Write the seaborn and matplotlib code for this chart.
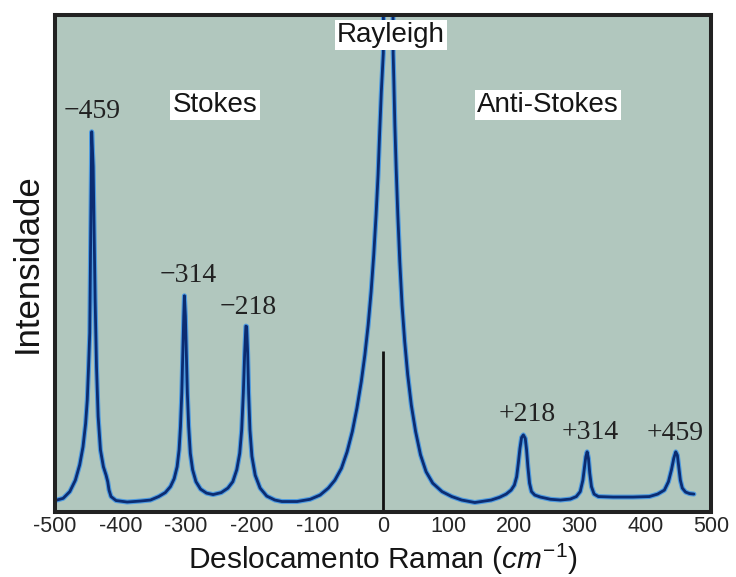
import matplotlib

matplotlib.use("Agg")
import matplotlib.pyplot as plt
import pandas as pd
import seaborn as sns

# curve (shift in cm^-1, intensity in % of axis height)
raman_shift = [
    -497, -487.5, -477.4, -468.9, -462.3, -457.3, -453.3, -450.8, -448.8,
    -447, -446, -445, -444,
    -441.8, -440.3, -438.8, -436.7, -434.2, -430.7, -426.2, -422.1, -419.6,
    -417.6, -414.6, -407, -390, -369.5, -354.4, -341.9, -331.8, -324, -318.3,
    -313.8, -310.8, -308.7, -306.7, -305.2, -303.7, -302.7,
    -301.2, -299.7, -298.2, -296.2, -293.7, -290.2, -285.1, -278.1, -269.1,
    -259, -246.5, -236.4, -228.9, -222.9, -218.4, -215.4, -212.9, -210.8,
    -209, -207.8,
    -206.3, -204.8, -202.8, -199.8, -194.8, -187.3, -177.2, -164.7, -154,
    -131, -111, -95.9, -83.3, -73.3, -63.3, -54.7, -46.7, -39.7, -33.1,
    -27.6, -22.6, -18.1, -14.1, -10.5, -7.5, -5.0, -2.5, -0.5, 0.5,
    8.5,
    15.5, 16.6, 18.1, 20.1, 22.6, 25.6, 29.1, 33.1, 37.7, 43.2, 49.7, 57.2,
    65.7, 75.8, 90, 104.9, 120,
    140, 165, 177.7, 187.8, 195.3, 200.3, 203.8, 206.3, 208.8, 211.3, 214,
    216.9, 218.9, 220.9, 223.4, 226.4, 231.4, 240, 255.5, 270.6, 285.7,
    294.7, 300.7, 304.7, 307.2, 309.2, 311.2,
    313.2, 315.2, 317.8, 321.8, 328.3, 351, 381, 406.1, 418.7, 429, 435.2,
    439.8, 443.3, 446.3,
    448.8, 450.8, 453.3, 456.3, 461.3, 467.3, 474,
]
intensity = [
    2.4, 2.75, 4.1, 6.4, 9.5, 13.1, 17.8, 22.5, 29.2,
    36.0, 49.4, 62.8, 76.5,
    69.5, 56.1, 42.7, 29.2, 19.2, 12.5, 9.1, 7.4, 6.1,
    4.4, 3.1, 2.3, 2.0, 2.2, 2.4, 3.1, 3.9, 5.1, 6.7,
    9.1, 12.5, 17.2, 23.9, 32.0, 39.4, 43.5,
    39.4, 32.0, 23.9, 17.2, 11.8, 8.5, 6.1, 4.6, 3.8,
    3.5, 3.9, 4.8, 6.1, 8.5, 11.8, 16.5, 23.9, 32.0,
    37.4, 37.3,
    32.0, 23.9, 16.5, 11.2, 7.4, 4.8, 3.2, 2.4, 2.1,
    2.1, 2.55, 3.4, 4.8, 6.4, 8.8, 12.1, 16.2, 20.9, 26.2,
    31.6, 37.6, 44.3, 51.7, 59.8, 67.8, 76.5, 84.6, 89.9, 92.3,
    400,
    92.3, 86.6, 77.9, 69.2, 59.8, 50.4, 41.6, 34.3, 27.6, 21.5, 16.2, 11.5,
    8.1, 5.8, 4.1, 3.1, 2.4,
    1.9, 2.4, 2.95, 3.6, 4.4, 5.4, 7.1, 9.8, 12.8, 15.0, 15.5,
    14.8, 12.5, 9.1, 5.8, 4.1, 3.4, 3.0, 2.55, 2.4, 2.6,
    3.1, 4.1, 6.4, 9.1, 11.1, 12.1,
    10.8, 7.8, 5.1, 3.6, 3.1, 3.0, 3.0, 3.1, 3.6, 4.4, 6.1,
    8.5, 10.8, 12.1,
    11.4, 9.1, 6.4, 4.8, 4.0, 3.7, 3.6,
]

laser_x = [0]
laser_height = [32.4]

peak_labels = ["\u2212459", "\u2212314", "\u2212218", "+218", "+314", "+459"]
peak_label_x = [-444, -297, -205, 220, 316, 445]
peak_label_y = [80.5, 47.5, 41.2, 19.7, 16.0, 15.7]

region_labels = ["Stokes", "Rayleigh", "Anti-Stokes"]
region_label_x = [-256, 12, 251]
region_label_y = [81.9, 96.0, 81.9]

x_ticks = [-500, -400, -300, -200, -100, 0, 100, 200, 300, 400, 500]

df = pd.DataFrame({"shift": raman_shift, "intensity": intensity})

sns.set_style("white")
plt.rcParams["font.family"] = ["Liberation Sans", "DejaVu Sans"]
plt.rcParams["axes.unicode_minus"] = False
plt.rcParams["mathtext.fontset"] = "custom"
plt.rcParams["mathtext.rm"] = "Liberation Sans"
plt.rcParams["mathtext.it"] = "Liberation Sans:italic"

fig = plt.figure(figsize=(7.36, 5.77), dpi=100)
ax = fig.add_axes([0.0747, 0.1127, 0.8913, 0.8614])
ax.set_facecolor("#b1c7be")

sns.lineplot(data=df, x="shift", y="intensity", sort=False, estimator=None,
             color="#4f9be0", linewidth=3.6, ax=ax)
sns.lineplot(data=df, x="shift", y="intensity", sort=False, estimator=None,
             color="#0b2c72", linewidth=2.0, ax=ax)
ax.vlines(laser_x, 0, laser_height, color="#111111", linewidth=2)

for label, x, y in zip(peak_labels, peak_label_x, peak_label_y):
    ax.text(x, y, label, ha="center", va="center", fontsize=20,
            family=["Liberation Serif", "DejaVu Serif"], color="#222222")

for label, x, y in zip(region_labels, region_label_x, region_label_y):
    ax.text(x, y, label, ha="center", va="center", fontsize=20, color="#151515",
            zorder=5,
            bbox=dict(boxstyle="square,pad=0.08", facecolor="white", edgecolor="none"))

ax.set_xlim(-500, 488)
ax.set_ylim(0, 100)
ax.set_xticks(x_ticks)
ax.set_yticks([])
ax.tick_params(axis="x", direction="in", length=7, width=1, color="#333333",
               labelsize=15.5, pad=3)

for spine in ax.spines.values():
    spine.set_visible(True)
    spine.set_linewidth(2.9)
    spine.set_color("#222222")

ax.set_xlabel(r"Deslocamento Raman ($\mathit{cm}^{\mathrm{-1}}$)", fontsize=21.5,
              color="#151515", va="bottom")
ax.xaxis.set_label_coords(0.5, -0.1305)
ax.set_ylabel("Intensidade", fontsize=25, labelpad=8, color="#151515")

fig.savefig("out.png", dpi=100)
